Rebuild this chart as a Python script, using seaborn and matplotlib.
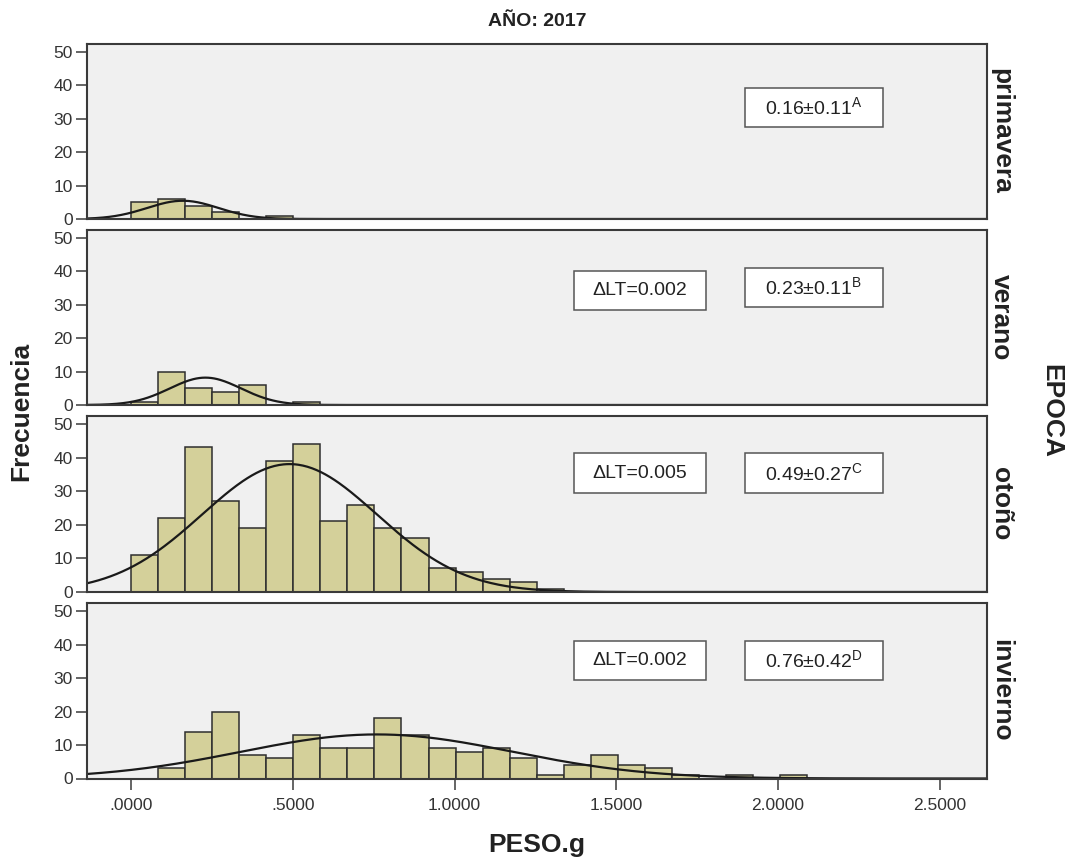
import numpy as np
import pandas as pd
import matplotlib
matplotlib.use("Agg")
import matplotlib.pyplot as plt
from matplotlib.patches import Rectangle
import seaborn as sns

# ---------------- data ----------------
seasons = ["primavera", "verano", "otoño", "invierno"]
bin_width = 0.0836
counts_primavera = [5, 6, 4, 2, 0, 1]
counts_verano = [1, 10, 5, 4, 6, 0, 1]
counts_otono = [11, 22, 43, 27, 19, 39, 44, 21, 26, 19, 16, 7, 6, 4, 3, 1]
counts_invierno = [0, 3, 14, 20, 7, 6, 13, 9, 9, 18, 13, 9, 8, 9, 6, 1, 4, 7, 4, 3, 1, 0, 1, 0, 1]
means = [0.16, 0.23, 0.49, 0.76]
sds = [0.11, 0.11, 0.27, 0.42]
letters = ["A", "B", "C", "D"]
delta_lt = [None, "0.002", "0.005", "0.002"]
x_ticks = [0.0, 0.5, 1.0, 1.5, 2.0, 2.5]
x_tick_labels = [".0000", ".5000", "1.0000", "1.5000", "2.0000", "2.5000"]
y_ticks = [0, 10, 20, 30, 40, 50]
title = "AÑO: 2017"
x_label = "PESO.g"
y_label = "Frecuencia"
row_title = "EPOCA"

all_counts = [counts_primavera, counts_verano, counts_otono, counts_invierno]

# ---------------- style ----------------
sns.set_style("ticks")
plt.rcParams["font.family"] = ["Liberation Sans", "DejaVu Sans"]
plt.rcParams["mathtext.fontset"] = "custom"
plt.rcParams["mathtext.rm"] = "Liberation Sans"
plt.rcParams["mathtext.it"] = "Liberation Sans"

W, H = 1080, 861
fig = plt.figure(figsize=(W / 100, H / 100), dpi=100)
fig.patch.set_facecolor("white")

left_px, right_px = 86.5, 987
panels_px = [(43.5, 219), (229.5, 405), (415.5, 592), (603, 778.5)]
xlim = (-0.1376, 2.646)
ylim = (0, 52.5)

bar_color = "#d4d09a"
edge_color = "#2e2e2e"
spine_color = "#3a3a3a"
panel_bg = "#f0f0f0"

mean_box_y = [0.635, 0.672, 0.674, 0.672]
dlt_box_y = [None, 0.655, 0.674, 0.672]

for i, (season, counts) in enumerate(zip(seasons, all_counts)):
    top, bot = panels_px[i]
    ax = fig.add_axes([left_px / W, 1 - bot / H, (right_px - left_px) / W, (bot - top) / H])
    ax.set_facecolor(panel_bg)

    counts = np.asarray(counts, dtype=float)
    edges = [k * bin_width for k in range(len(counts) + 1)]
    centers = [(edges[k] + edges[k + 1]) / 2 for k in range(len(counts))]
    df = pd.DataFrame({"peso": centers, "n": counts})
    sns.histplot(data=df, x="peso", weights="n", bins=edges, ax=ax,
                 color=bar_color, edgecolor=edge_color, linewidth=1.1, alpha=1.0)

    # normal curve
    n_total = counts.sum()
    xs = np.linspace(xlim[0], xlim[1], 600)
    mu, sd = means[i], sds[i]
    ys = n_total * bin_width * np.exp(-0.5 * ((xs - mu) / sd) ** 2) / (sd * np.sqrt(2 * np.pi))
    sns.lineplot(x=xs, y=ys, ax=ax, color="#1a1a1a", linewidth=1.6)

    ax.set_xlim(*xlim)
    ax.set_ylim(*ylim)
    ax.set_yticks(y_ticks)
    ax.set_yticklabels([str(v) for v in y_ticks], fontsize=12.5, color="#333333")
    ax.tick_params(axis="y", length=8, width=1.1, color=spine_color, pad=2)
    ax.set_xlabel("")
    ax.set_ylabel("")
    if i == len(seasons) - 1:
        ax.set_xticks(x_ticks)
        ax.set_xticklabels(x_tick_labels, fontsize=12.5, color="#333333")
        ax.tick_params(axis="x", length=8, width=1.1, color=spine_color, pad=6)
    else:
        ax.set_xticks([])
    for sp in ax.spines.values():
        sp.set_visible(True)
        sp.set_color(spine_color)
        sp.set_linewidth(1.5)

    # mean box
    bx0, bw, bh = 0.731, 0.1535, 0.222
    yc = mean_box_y[i]
    ax.add_patch(Rectangle((bx0, yc - bh / 2), bw, bh, transform=ax.transAxes,
                           facecolor="white", edgecolor="#555555", linewidth=1.1, zorder=5))
    ax.text(bx0 + bw / 2, yc, f"{means[i]:.2f}±{sds[i]:.2f}" + r"$^{\mathrm{" + letters[i] + "}}$",
            transform=ax.transAxes, ha="center", va="center", fontsize=14, color="#222222", zorder=6)
    # delta LT box
    if delta_lt[i] is not None:
        dx0, dw = 0.5414, 0.1466
        yc2 = dlt_box_y[i]
        ax.add_patch(Rectangle((dx0, yc2 - bh / 2), dw, bh, transform=ax.transAxes,
                               facecolor="white", edgecolor="#555555", linewidth=1.1, zorder=5))
        ax.text(dx0 + dw / 2, yc2, "ΔLT=" + delta_lt[i], transform=ax.transAxes,
                ha="center", va="center", fontsize=14, color="#222222", zorder=6)

    # row label
    fig.text(1001 / W, 1 - ((top + bot) / 2) / H, season, rotation=270, ha="center", va="center",
             fontsize=19, fontweight="bold", color="#222222")

fig.text(537 / W, 1 - 22 / H, title, ha="center", va="center", fontsize=14, fontweight="bold", color="#222222")
fig.text(537 / W, 1 - 845 / H, x_label, ha="center", va="center", fontsize=19, fontweight="bold", color="#222222")
fig.text(21 / W, 1 - 411 / H, y_label, rotation=90, ha="center", va="center", fontsize=19, fontweight="bold", color="#222222")
fig.text(1051 / W, 1 - 411 / H, row_title, rotation=270, ha="center", va="center", fontsize=19, fontweight="bold", color="#222222")

fig.savefig("out.png", dpi=100)
